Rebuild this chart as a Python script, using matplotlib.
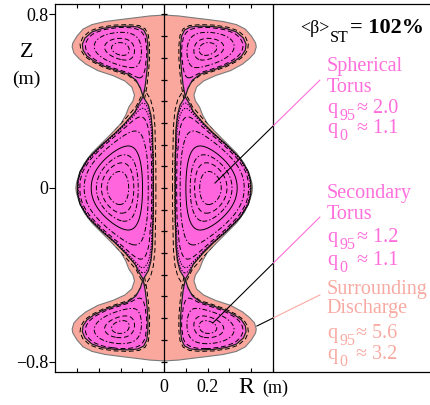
import numpy as np
import matplotlib
matplotlib.use("Agg")
import matplotlib.pyplot as plt
from matplotlib.path import Path
from matplotlib.patches import Polygon

plt.rcParams["font.family"] = ["Liberation Serif", "DejaVu Serif"]
plt.rcParams["lines.scale_dashes"] = False
plt.rcParams["lines.dashed_pattern"] = [3.5, 2.0]
plt.rcParams["lines.dashdot_pattern"] = [3.5, 1.5, 1.0, 1.5]
plt.rcParams["lines.dotted_pattern"] = [1.0, 1.0]

MAGENTA = "#FF66DD"
SALMON = "#FAA89E"
PINK_TXT = "#FF6EDC"
SALMON_TXT = "#F8AAA2"

# discharge boundary, upper-left quadrant (R, Z in m): top of column -> midplane
outer_R = [0.0, -0.066, -0.121, -0.204, -0.273, -0.333, -0.374, -0.402, -0.421, -0.424,
           -0.416, -0.393, -0.361, -0.306, -0.236, -0.181, -0.149, -0.137, -0.144, -0.163,
           -0.177, -0.198, -0.241, -0.287, -0.333, -0.370, -0.393, -0.404, -0.407]
outer_Z = [0.797, 0.793, 0.786, 0.776, 0.767, 0.753, 0.732, 0.700, 0.668, 0.650,
           0.622, 0.597, 0.571, 0.541, 0.518, 0.493, 0.465, 0.428, 0.401, 0.373,
           0.336, 0.299, 0.253, 0.207, 0.161, 0.111, 0.060, 0.023, 0.0]

# spherical torus, left lobe, upper half: inner edge -> X-point -> outer edge
st_R = [-0.050, -0.050, -0.052, -0.054, -0.061, -0.073, -0.097, -0.117, -0.135, -0.181,
        -0.227, -0.288, -0.350, -0.388, -0.399, -0.400]
st_Z = [0.0, 0.083, 0.175, 0.267, 0.336, 0.382, 0.421, 0.387, 0.351, 0.298,
        0.252, 0.198, 0.137, 0.075, 0.029, 0.0]
st_axis = (-0.216, 0.0)

# secondary torus, upper-left lobe (closed, starts at X-point)
sec_R = [-0.097, -0.087, -0.080, -0.075, -0.075, -0.080, -0.094, -0.121, -0.167, -0.227,
         -0.287, -0.333, -0.365, -0.377, -0.374, -0.356, -0.324, -0.278, -0.218, -0.167,
         -0.130, -0.110]
sec_Z = [0.421, 0.474, 0.534, 0.599, 0.654, 0.700, 0.728, 0.742, 0.746, 0.744,
         0.735, 0.719, 0.691, 0.663, 0.636, 0.608, 0.585, 0.562, 0.541, 0.525,
         0.497, 0.461]
sec_axis = (-0.200, 0.630)

# flux contour levels (normalised) and styles
st_levels = [0.02, 0.05, 0.12, 0.30, 0.55, 0.70, 0.82, 0.92]
st_styles = ["dotted", "dotted", "dashed", "dashdot", "solid", "dashdot", "dashed", "dashdot"]
sec_levels = [0.15, 0.50, 0.80, 0.93]
sec_styles = ["dashed", "dashdot", "dashed", "dashdot"]
outside_scale = {"st": 1.07, "sec": 1.06}

# annotation text
beta_label = "<β>"
beta_sub = "ST"
beta_value = "= 102%"
st_words = ["Spherical", "Torus"]
st_base = [0.537, 0.444]
sec_words = ["Secondary", "Torus"]
sec_base = [-0.046, -0.143]
sur_words = ["Surrounding", "Discharge"]
sur_base = [-0.488, -0.576]
# safety factor lines: subscript, value, baseline
st_q = [("95", "≈ 2.0", 0.345), ("0", "≈ 1.1", 0.252)]
sec_q = [("95", "≈ 1.2", -0.247), ("0", "≈ 1.1", -0.355)]
sur_q = [("95", "≈ 5.6", -0.691), ("0", "≈ 3.2", -0.788)]

# leader lines: start near text, end on the feature
lead_R0 = [0.717, 0.717, 0.717]
lead_Z0 = [0.497, -0.134, -0.493]
lead_R1 = [0.234, 0.224, 0.427]
lead_Z1 = [0.023, -0.622, -0.636]
lead_colors = [PINK_TXT, PINK_TXT, SALMON_TXT]

x_major = [0.0, 0.2]
x_minor = [-0.4, -0.3, -0.2, -0.1, 0.1, 0.3, 0.4, 0.5]
y_major = [-0.8, 0.0, 0.8]
col_ticks = [-0.8, -0.7, -0.6, -0.5, -0.4, -0.3, -0.2, -0.1, 0.0, 0.1, 0.2, 0.3, 0.4, 0.5, 0.6, 0.7, 0.8]


def mirror_outline(r, z):
    r = np.asarray(r)
    z = np.asarray(z)
    left_r = np.concatenate([r, r[-2::-1]])
    left_z = np.concatenate([z, -z[-2::-1]])
    return (np.concatenate([left_r, -left_r[-2:0:-1]]),
            np.concatenate([left_z, left_z[-2:0:-1]]))


def mirror_lobe(r, z):
    r = np.asarray(r)
    z = np.asarray(z)
    return np.concatenate([r, r[-2:0:-1]]), np.concatenate([z, -z[-2:0:-1]])


out_r, out_z = mirror_outline(outer_R, outer_Z)
st_r, st_z = mirror_lobe(st_R, st_Z)
sr, sz = np.asarray(sec_R), np.asarray(sec_Z)

# (R, Z, axis, kind)
lobes = [
    (st_r, st_z, st_axis, "st"),
    (-st_r, st_z, (-st_axis[0], st_axis[1]), "st"),
    (sr, sz, sec_axis, "sec"),
    (-sr, sz, (-sec_axis[0], sec_axis[1]), "sec"),
    (sr, -sz, (sec_axis[0], -sec_axis[1]), "sec"),
    (-sr, -sz, (-sec_axis[0], -sec_axis[1]), "sec"),
]

# flux inside each lobe: solve a Poisson problem with psi = 0 on the separatrix
h = 0.004
rg = np.arange(-0.46, 0.46 + h / 2, h)
zg = np.arange(-0.80, 0.80 + h / 2, h)
RR, ZZ = np.meshgrid(rg, zg)
pts = np.column_stack([RR.ravel(), ZZ.ravel()])
lobe_id = np.zeros(RR.shape, int)
for k, (lr, lz, _, _) in enumerate(lobes, start=1):
    m = Path(np.column_stack([lr, lz])).contains_points(pts).reshape(RR.shape)
    lobe_id[m] = k
inside = lobe_id > 0
ii, jj = np.indices(RR.shape)
red = (ii + jj) % 2 == 0
sweeps = [inside & red, inside & ~red]
psi = np.zeros(RR.shape)
omega = 1.93
for _ in range(900):
    for upd in sweeps:
        nb = np.zeros_like(psi)
        nb[1:-1, 1:-1] = psi[:-2, 1:-1] + psi[2:, 1:-1] + psi[1:-1, :-2] + psi[1:-1, 2:]
        psi[upd] += omega * (0.25 * (nb[upd] + h * h) - psi[upd])

psi_n = np.zeros_like(psi)
for k in range(1, len(lobes) + 1):
    m = lobe_id == k
    psi_n[m] = psi[m] / psi[m].max()
st_field = np.where((lobe_id == 1) | (lobe_id == 2), psi_n, 0.0)
sec_field = np.where(lobe_id >= 3, psi_n, 0.0)

fig = plt.figure(figsize=(4.31, 4.05), dpi=100)
ax = fig.add_axes([55 / 431, 33 / 405, 376 / 431, 368 / 405])
ax.set_xlim(-0.503, 1.229)
ax.set_ylim(-0.848, 0.848)

outer_patch = Polygon(np.column_stack([out_r, out_z]), closed=True, facecolor=SALMON,
                      edgecolor="#7a7a7a", lw=0.8, zorder=1)
ax.add_patch(outer_patch)

# flux surfaces just outside the separatrix (salmon region)
for lr, lz, o, kind in lobes:
    s = outside_scale[kind]
    xr = o[0] + s * (np.append(lr, lr[0]) - o[0])
    xz = o[1] + s * (np.append(lz, lz[0]) - o[1])
    ln, = ax.plot(xr, xz, color="k", lw=0.7, ls="dashed", zorder=2)
    ln.set_clip_path(outer_patch)

for lr, lz, _, _ in lobes:
    ax.add_patch(Polygon(np.column_stack([lr, lz]), closed=True, facecolor=MAGENTA,
                         edgecolor="#222222", lw=0.9, zorder=3))

ax.contour(RR, ZZ, st_field, levels=st_levels, colors="k", linewidths=0.7,
           linestyles=st_styles, zorder=4)
ax.contour(RR, ZZ, sec_field, levels=sec_levels, colors="k", linewidths=0.7,
           linestyles=sec_styles, zorder=4)

# centre column and the R = 0.5 m line
ax.axvline(0.0, color="k", lw=0.9, zorder=5)
ax.plot(np.zeros(len(col_ticks)), col_ticks, ls="none", marker="_", ms=5, mew=0.9,
        color="k", zorder=5)
ax.axvline(0.5, color="k", lw=0.9, zorder=5)

# leader lines: coloured outside the plot frame, black inside
for x0, z0, x1, z1, c in zip(lead_R0, lead_Z0, lead_R1, lead_Z1, lead_colors):
    t = (0.5 - x0) / (x1 - x0)
    zm = z0 + t * (z1 - z0)
    ax.plot([x0, 0.5], [z0, zm], color=c, lw=0.8, zorder=6)
    ax.plot([0.5, x1], [zm, z1], color="k", lw=0.8, zorder=6)

ax.text(0.628, 0.713, beta_label, fontsize=13, va="baseline", ha="left")
ax.text(0.765, 0.672, beta_sub, fontsize=11.5, va="baseline", ha="left")
ax.text(0.857, 0.713, beta_value, fontsize=16, fontweight="bold", va="baseline", ha="left")

for words, bases, qs, c, xeq in [(st_words, st_base, st_q, PINK_TXT, 0.888),
                                 (sec_words, sec_base, sec_q, PINK_TXT, 0.888),
                                 (sur_words, sur_base, sur_q, SALMON_TXT, 0.882)]:
    for s, b in zip(words, bases):
        ax.text(0.749, b, s, fontsize=14.5, color=c, va="baseline", ha="left")
    for sub, val, b in qs:
        ax.text(0.752, b, "q", fontsize=14.5, color=c, va="baseline", ha="left")
        ax.text(0.806, b - 0.032, sub, fontsize=11.5, color=c, va="baseline", ha="left")
        ax.text(xeq, b, val, fontsize=14.5, color=c, va="baseline", ha="left")

# axis labels
ax.text(-0.635, 0.624, "Z", fontsize=16, ha="center", va="center")
ax.text(-0.634, 0.502, "(m)", fontsize=14, ha="center", va="center")
ax.text(0.376, -0.946, "R", fontsize=17, ha="center", va="baseline", clip_on=False)
ax.text(0.51, -0.946, "(m)", fontsize=13, ha="center", va="baseline", clip_on=False)

ax.spines["right"].set_visible(False)
for sp in ["left", "top", "bottom"]:
    ax.spines[sp].set_linewidth(0.9)
ax.set_xticks(x_major, ["0", "0.2"])
ax.set_xticks(x_minor, minor=True)
ax.tick_params(axis="x", which="both", direction="in", top=True, length=3, width=0.8,
               labelsize=13, pad=5)
ax.set_yticks(y_major, ["\u22120.8", "0", "0.8"])
ax.tick_params(axis="y", direction="out", length=4, width=0.8, labelsize=13, pad=1,
               right=False)

fig.savefig("out.png", dpi=100)
